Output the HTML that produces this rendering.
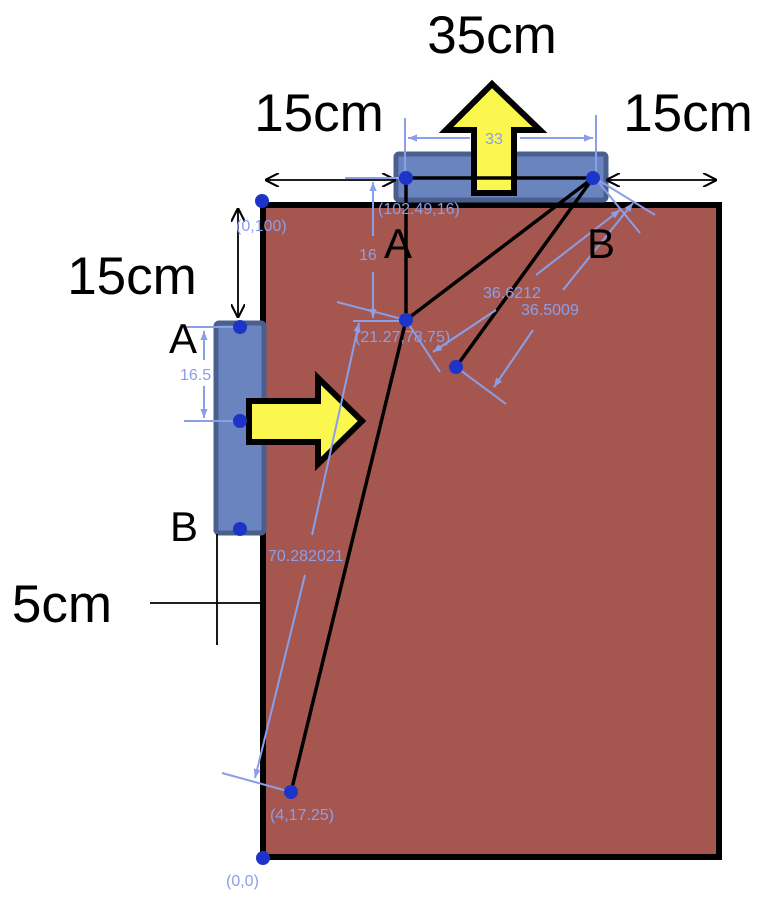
<!DOCTYPE html>
<html><head><meta charset="utf-8"><style>
html,body{margin:0;padding:0;background:#fff;width:768px;height:906px;overflow:hidden}
svg{display:block}
text{font-family:"Liberation Sans",sans-serif}
</style></head><body>
<svg width="768" height="906" viewBox="0 0 768 906" xmlns="http://www.w3.org/2000/svg">
<defs>
<marker id="ab" viewBox="0 0 10 10" refX="10" refY="5" markerWidth="14" markerHeight="14" orient="auto-start-reverse" markerUnits="userSpaceOnUse"><path d="M0,0 L10,5 L0,10" fill="none" stroke="#000" stroke-width="1.5"/></marker>
<marker id="bb" viewBox="0 0 10 10" refX="10" refY="5" markerWidth="9" markerHeight="9" orient="auto-start-reverse" markerUnits="userSpaceOnUse"><path d="M0,1 L10,5 L0,9 z" fill="#8b9ee8"/></marker>
</defs>
<rect x="263" y="205" width="456" height="652" fill="#a5574f" stroke="#000" stroke-width="6"/>
<rect x="396" y="154" width="210" height="46" rx="3" fill="#6a84c0" stroke="#4b5f8e" stroke-width="5"/>
<rect x="216" y="323" width="48" height="210" rx="3" fill="#6a84c0" stroke="#4b5f8e" stroke-width="5"/>
<polygon points="492,84 540,130 514,130 514,193 474,193 474,130 446,130" fill="#fbf74f" stroke="#000" stroke-width="6"/>
<polygon points="249,401 318,401 318,378 362,421 318,464 318,442 249,442" fill="#fbf74f" stroke="#000" stroke-width="6"/>
<g stroke="#000" stroke-width="3.5" fill="none">
<line x1="406" y1="178" x2="593" y2="178"/>
<line x1="406" y1="178" x2="406" y2="320"/>
<line x1="406" y1="320" x2="593" y2="178"/>
<line x1="593" y1="178" x2="456" y2="367"/>
<line x1="406" y1="320" x2="291" y2="792"/>
</g>
<g stroke="#000" stroke-width="1.8" fill="none">
<line x1="265" y1="180" x2="396" y2="180" marker-start="url(#ab)" marker-end="url(#ab)"/>
<line x1="606" y1="180" x2="717" y2="180" marker-start="url(#ab)" marker-end="url(#ab)"/>
<line x1="238" y1="208" x2="238" y2="318" marker-start="url(#ab)" marker-end="url(#ab)"/>
<line x1="150" y1="603" x2="262" y2="603"/>
<line x1="217" y1="534" x2="217" y2="645"/>
</g>
<g stroke="#8b9ee8" stroke-width="2" fill="none">
<line x1="405" y1="118" x2="405" y2="178"/>
<line x1="596" y1="115" x2="596" y2="178"/>
<line x1="408" y1="138" x2="470" y2="138" marker-start="url(#bb)"/>
<line x1="520" y1="138" x2="593" y2="138" marker-end="url(#bb)"/>
<line x1="345" y1="178" x2="405" y2="178"/>
<line x1="353" y1="321" x2="405" y2="321"/>
<line x1="373" y1="182" x2="373" y2="236" marker-start="url(#bb)"/>
<line x1="373" y1="272" x2="373" y2="318" marker-end="url(#bb)"/>
<line x1="337" y1="302" x2="406" y2="320"/>
<line x1="406" y1="320" x2="440" y2="372"/>
<line x1="456" y1="367" x2="506" y2="404"/>
<line x1="595" y1="178" x2="640" y2="233"/>
<line x1="595" y1="178" x2="655" y2="215"/>
<line x1="536" y1="275" x2="620" y2="210" marker-end="url(#bb)"/>
<line x1="496" y1="310" x2="433" y2="352" marker-end="url(#bb)"/>
<line x1="563" y1="290" x2="633" y2="203" marker-end="url(#bb)"/>
<line x1="533" y1="330" x2="494" y2="387" marker-end="url(#bb)"/>
<line x1="186" y1="327" x2="240" y2="327"/>
<line x1="184" y1="421" x2="240" y2="421"/>
<line x1="204" y1="331" x2="204" y2="360" marker-start="url(#bb)"/>
<line x1="204" y1="386" x2="204" y2="418" marker-end="url(#bb)"/>
<line x1="222" y1="773" x2="291" y2="792"/>
<line x1="312" y1="535" x2="359" y2="323" marker-end="url(#bb)"/>
<line x1="305" y1="575" x2="255" y2="778" marker-end="url(#bb)"/>
</g>
<g fill="#1c34c8">
<circle cx="262" cy="201" r="7"/><circle cx="406" cy="178" r="7"/><circle cx="593" cy="178" r="7"/>
<circle cx="406" cy="320" r="7"/><circle cx="456" cy="367" r="7"/><circle cx="291" cy="792" r="7"/>
<circle cx="263" cy="858" r="7"/><circle cx="240" cy="327" r="7"/><circle cx="240" cy="421" r="7"/><circle cx="240" cy="529" r="7"/>
</g>
<g fill="#8b9ee8" font-size="16">
<text x="494" y="144" text-anchor="middle">33</text>
<text x="378" y="214">(102.49,16)</text>
<text x="236" y="231">(0,100)</text>
<text x="359" y="260">16</text>
<text x="355" y="342">(21.27,78.75)</text>
<text x="483" y="298">36.6212</text>
<text x="521" y="315">36.5009</text>
<text x="180" y="380">16.5</text>
<text x="268" y="561">70.282021</text>
<text x="270" y="820">(4,17.25)</text>
<text x="226" y="886">(0,0)</text>
</g>
<g fill="#000">
<text x="492" y="53" font-size="53" text-anchor="middle">35cm</text>
<text x="319" y="131" font-size="53" text-anchor="middle">15cm</text>
<text x="688" y="131" font-size="53" text-anchor="middle">15cm</text>
<text x="132" y="294" font-size="53" text-anchor="middle">15cm</text>
<text x="62" y="622" font-size="53" text-anchor="middle">5cm</text>
<text x="398" y="258" font-size="42" text-anchor="middle">A</text>
<text x="601" y="258" font-size="42" text-anchor="middle">B</text>
<text x="183" y="353" font-size="42" text-anchor="middle">A</text>
<text x="184" y="541" font-size="42" text-anchor="middle">B</text>
</g>
</svg>
</body></html>
